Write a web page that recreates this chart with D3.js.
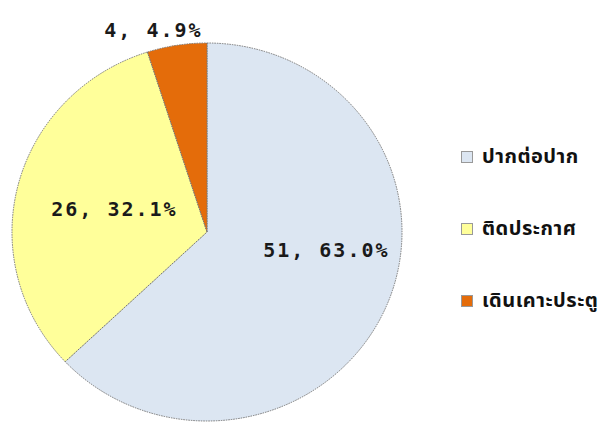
<!DOCTYPE html>
<html><head><meta charset="utf-8">
<script src="https://cdn.jsdelivr.net/npm/d3@7"></script>
<style>
html,body{margin:0;padding:0;background:#fff;}
svg{display:block;}
</style></head>
<body>
<svg id="chart" width="611" height="423"></svg>
<script>
const categories = ["ปากต่อปาก", "ติดประกาศ", "เดินเคาะประตู"];
const values = [51, 26, 4];
const percentLabels = ["63.0%", "32.1%", "4.9%"];
const colors = ["#dce6f2", "#ffff9a", "#e46c0a"];

const svg = d3.select("#chart");
const cx = 207, cy = 232, rx = 195, ry = 189;

const pie = d3.pie().sort(null).value(d => d)(values);
const arc = d3.arc().innerRadius(0).outerRadius(ry);

const g = svg.append("g").attr("transform", `translate(${cx},${cy}) scale(${rx/ry},1)`);
g.selectAll("path").data(pie).enter().append("path")
  .attr("d", arc)
  .attr("fill", (d,i) => colors[i])
  .attr("stroke", "#777")
  .attr("stroke-width", 1)
  .attr("stroke-dasharray", "1.5,1")
  .attr("vector-effect", "non-scaling-stroke");

// labels
const labelFactor = [0.70, 0.49, 1.08];
const nudge = [[-6, -34], [0, 0], [-21, 0]];
pie.forEach((d, i) => {
  const a = (d.startAngle + d.endAngle) / 2;
  const x = cx + Math.sin(a) * rx * labelFactor[i] + nudge[i][0];
  const y = cy - Math.cos(a) * ry * labelFactor[i] + nudge[i][1];
  svg.append("text")
    .attr("x", x).attr("y", y)
    .attr("text-anchor", "middle")
    .attr("dominant-baseline", "central")
    .attr("font-family", "'DejaVu Sans Mono', monospace")
    .attr("font-weight", "bold")
    .attr("font-size", 20)
    .attr("letter-spacing", 2)
    .attr("fill", "#1a1a1a")
    .text(values[i] + ", " + percentLabels[i]);
});

// legend
const legendY = d3.scalePoint().domain(categories).range([157, 301]);
const leg = svg.append("g");
categories.forEach((c, i) => {
  const y = legendY(c);
  leg.append("rect")
    .attr("x", 461.5).attr("y", y - 5.5)
    .attr("width", 11).attr("height", 11)
    .attr("fill", colors[i])
    .attr("stroke", "#999").attr("stroke-width", 1);
  leg.append("text")
    .attr("x", 482).attr("y", y)
    .attr("dominant-baseline", "central")
    .attr("font-family", "'Noto Sans Thai', 'Noto Sans', 'DejaVu Sans', sans-serif")
    .attr("font-weight", "bold")
    .attr("font-size", 20)
    .attr("letter-spacing", 0.5)
    .attr("fill", "#111")
    .text(c);
});
</script>
</body></html>
